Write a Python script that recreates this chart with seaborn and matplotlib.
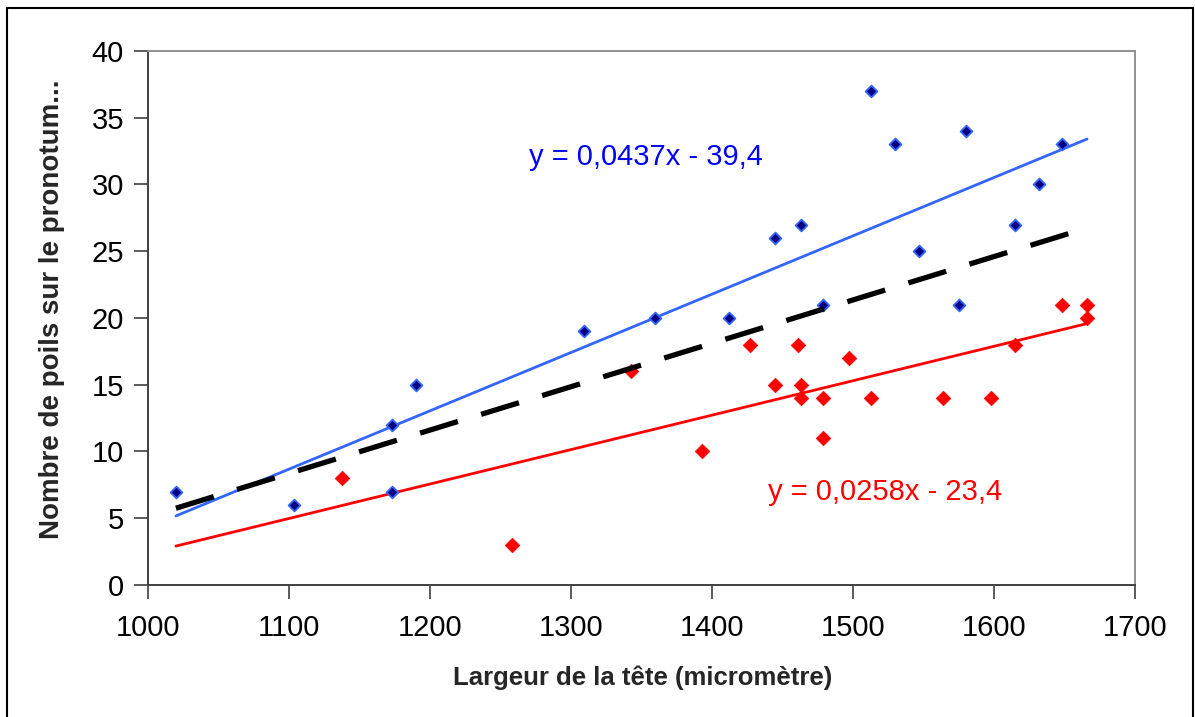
import numpy as np
import pandas as pd
import matplotlib
matplotlib.use("Agg")
import matplotlib.pyplot as plt
import seaborn as sns
from matplotlib.patches import Rectangle

# ---- data ----
blue_x = [1020, 1104, 1173, 1173, 1190, 1309, 1360, 1412, 1445, 1463,
          1479, 1513, 1530, 1547, 1575, 1580, 1615, 1632, 1648]
blue_y = [7, 6, 12, 7, 15, 19, 20, 20, 26, 27,
          21, 37, 33, 25, 21, 34, 27, 30, 33]

red_x = [1138, 1258, 1343, 1393, 1427, 1445, 1461, 1463, 1463, 1479,
         1479, 1497, 1513, 1564, 1598, 1615, 1648, 1666, 1666]
red_y = [8, 3, 16, 10, 18, 15, 18, 15, 14, 14,
         11, 17, 14, 14, 14, 18, 21, 21, 20]

blue_coef = [0.0437, -39.4]
red_coef = [0.0258, -23.4]
all_coef = [0.0325, -27.4]

blue_eq = "y = 0,0437x - 39,4"
red_eq = "y = 0,0258x - 23,4"

x_ticks = [1000, 1100, 1200, 1300, 1400, 1500, 1600, 1700]
y_ticks = [0, 5, 10, 15, 20, 25, 30, 35, 40]
x_label = "Largeur de la tête (micromètre)"
y_label = "Nombre de poils sur le pronotum..."

# ---- build frames ----
pts_blue = pd.DataFrame({"x": blue_x, "y": blue_y})
pts_red = pd.DataFrame({"x": red_x, "y": red_y})
x_lo = min(min(blue_x), min(red_x))
x_hi = max(max(blue_x), max(red_x))
line_x = np.array([x_lo, x_hi])
ln_blue = pd.DataFrame({"x": line_x, "y": np.polyval(blue_coef, line_x)})
ln_red = pd.DataFrame({"x": line_x, "y": np.polyval(red_coef, line_x)})
ln_all = pd.DataFrame({"x": line_x, "y": np.polyval(all_coef, line_x)})

sns.set_theme(style="white")
plt.rcParams["font.family"] = ["Liberation Sans", "DejaVu Sans"]

fig = plt.figure(figsize=(11.95, 7.17), dpi=100)
ax = fig.add_axes([0.1236, 0.1841, 0.8262, 0.7448])

# lines
sns.lineplot(data=ln_red, x="x", y="y", ax=ax, color="#FF0000", lw=2.0, zorder=2)
sns.lineplot(data=ln_blue, x="x", y="y", ax=ax, color="#3366FF", lw=2.0, zorder=2)

# points
sns.scatterplot(data=pts_red, x="x", y="y", ax=ax, marker="D", s=55,
                color="#FF0000", edgecolor="#FF0000", linewidth=0.5, zorder=3)
sns.scatterplot(data=pts_blue, x="x", y="y", ax=ax, marker="D", s=36,
                color="#000080", edgecolor="#3366FF", linewidth=1.3, zorder=3)

sns.lineplot(data=ln_all, x="x", y="y", ax=ax, color="black", lw=3.8, zorder=4)
ax.lines[-1].set_dashes([7.5, 4.6])
ax.lines[-1].set_dash_capstyle("butt")

# equations
ax.text(1270, 32.05, blue_eq, color="#0000FF", fontsize=21, ha="left", va="center")
ax.text(1440, 6.95, red_eq, color="#FF0000", fontsize=21, ha="left", va="center")

ax.set_xlim(1000, 1700)
ax.set_ylim(0, 40)
ax.set_xticks(x_ticks)
ax.set_yticks(y_ticks)
ax.set_xticklabels([str(v) for v in x_ticks])
ax.set_yticklabels([str(v) for v in y_ticks])
ax.tick_params(axis="both", which="major", direction="out", length=10, width=1.2,
               color="#404040", labelsize=21, labelcolor="black", pad=7,
               bottom=True, left=True)
ax.tick_params(axis="x", pad=11)

for side in ["left", "bottom"]:
    ax.spines[side].set_color("#404040")
    ax.spines[side].set_linewidth(1.4)
for side in ["top", "right"]:
    ax.spines[side].set_color("#909090")
    ax.spines[side].set_linewidth(1.4)
ax.grid(False)

ax.set_xlabel(x_label, fontsize=18.5, fontweight="bold")
ax.set_ylabel(y_label, fontsize=20, fontweight="bold")
ax.xaxis.label.set_verticalalignment("center")
ax.yaxis.label.set_verticalalignment("center")
ax.xaxis.set_label_coords(0.5013, -0.174)
ax.yaxis.set_label_coords(-0.097, 0.517)

# outer figure border
fig.patches.append(Rectangle((7 / 1195, -0.01), (1193 - 7) / 1195, 1 - 8 / 717 + 0.01,
                             transform=fig.transFigure, fill=False,
                             edgecolor="black", linewidth=1.5, zorder=0))

fig.savefig("out.png", dpi=100, facecolor="white")
